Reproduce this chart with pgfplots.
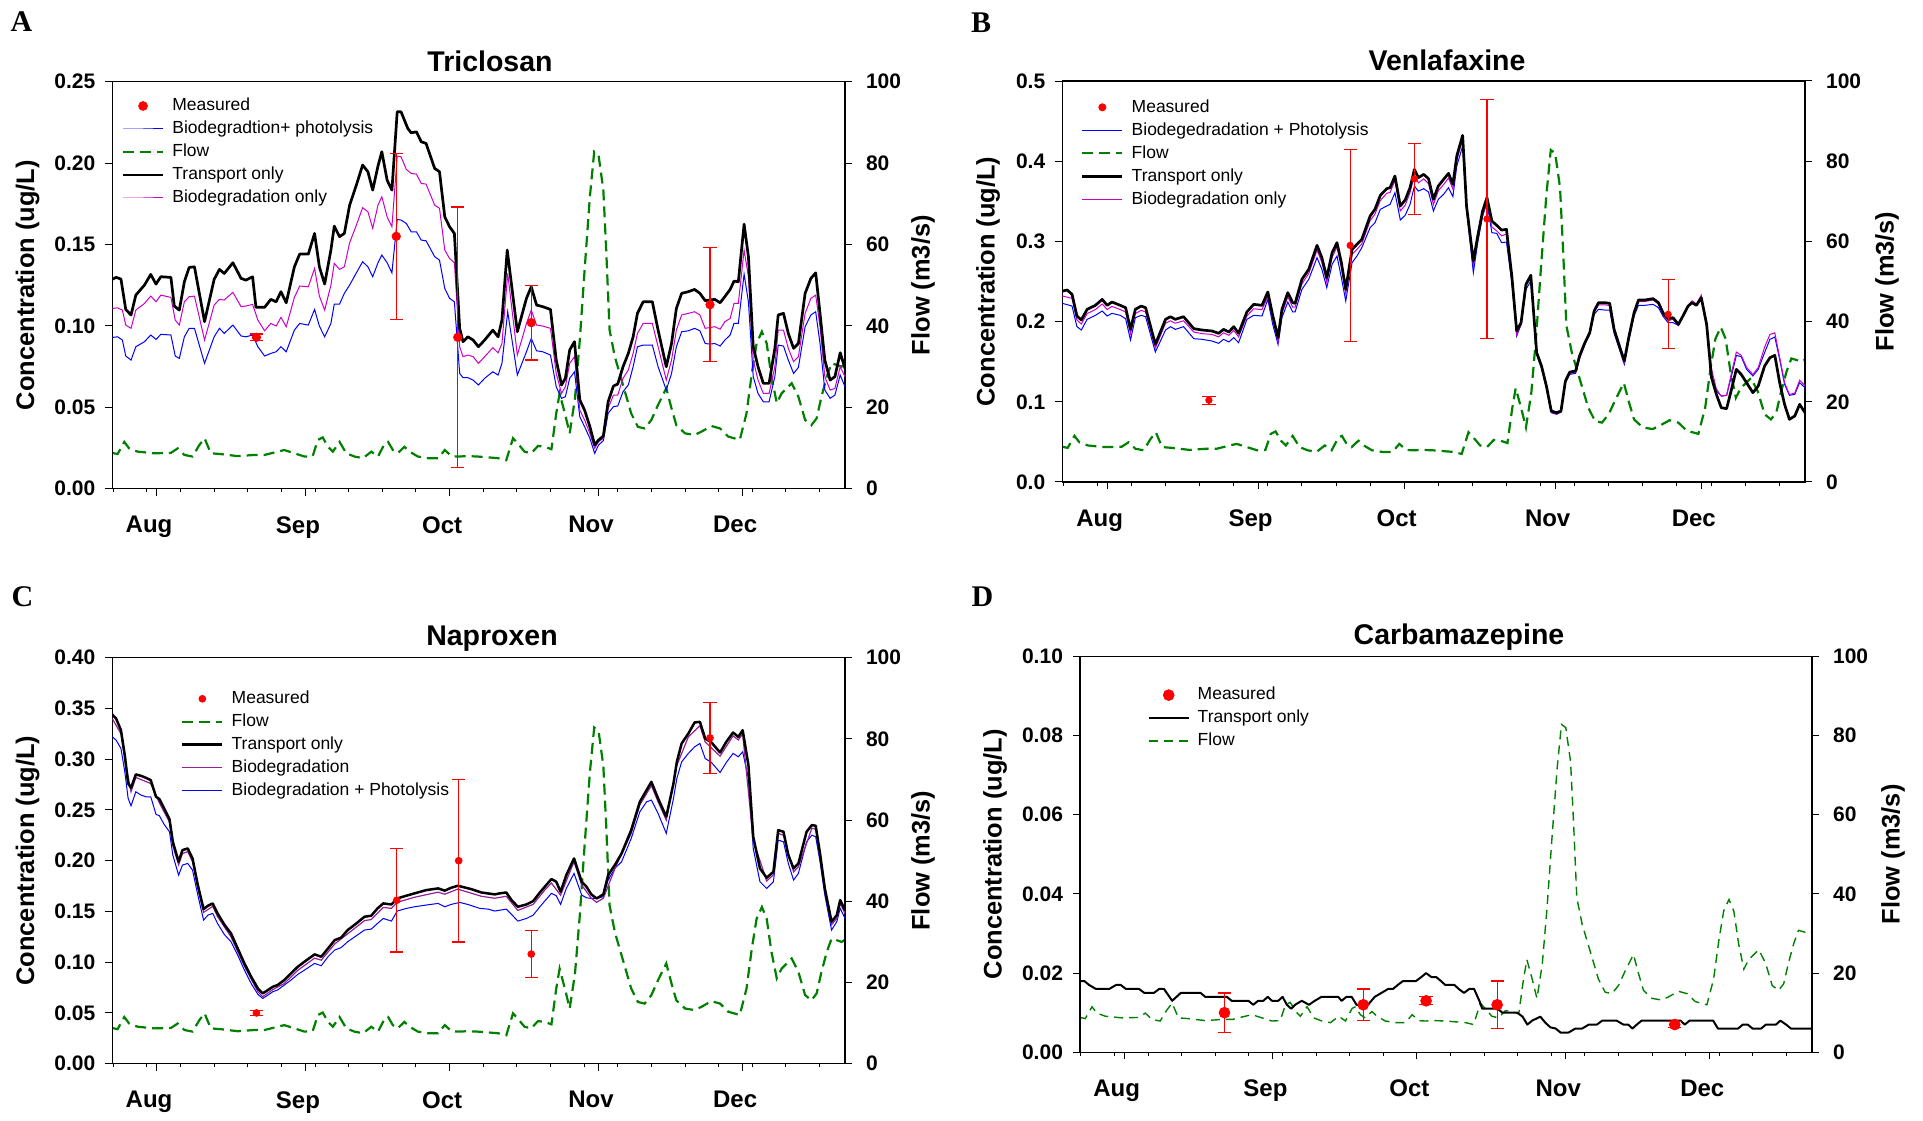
\documentclass[border=0pt]{standalone}
\usepackage{fontspec}
\setmainfont{Liberation Sans}
\newfontfamily\tnr{Liberation Serif}
\usepackage{pgfplots}
\usepackage{pgfplotstable}
\pgfplotsset{compat=1.18}

\definecolor{flowgreen}{RGB}{0,128,0}
\definecolor{magA}{RGB}{204,0,204}
\definecolor{purpC}{RGB}{150,30,150}
\definecolor{pureblue}{RGB}{0,0,255}
\definecolor{purered}{RGB}{255,0,0}

\newcommand{\ticklab}{\bfseries\fontsize{10.5}{12}\selectfont}
\newcommand{\monthlab}{\bfseries\fontsize{12}{14}\selectfont}
\newcommand{\titlefont}{\bfseries\fontsize{14.25}{16}\selectfont}
\newcommand{\labfont}{\bfseries\fontsize{12.7}{15}\selectfont}
\newcommand{\legfont}{\fontsize{8.75}{10}\selectfont}
\newcommand{\letfont}{\tnr\bfseries\fontsize{15}{15}\selectfont}
\newcommand{\PX}[2]{({(#1)*0.5pt},{(1120-(#2))*0.5pt})}

\pgfplotsset{
  legend image code/.code={\draw[mark repeat=2,mark phase=2,#1] plot coordinates {(0pt,0pt) (10pt,0pt) (20pt,0pt)};},
  measlegend/.style={legend image code/.code={\draw[##1] plot coordinates {(10pt,0pt)};}},
  panel/.style={
    scale only axis, anchor=south west,
    xmin=-9.2, xmax=143.3,
    tick align=outside,
    major tick length=3.5pt, minor tick length=1.8pt,
    tick style={black, line width=0.5pt},
    axis line style={black, line width=0.6pt},
    xtick pos=left, ytick pos=left,
    xtick={0,31,61,92,122},
    xticklabels={Aug,Sep,Oct,Nov,Dec},
    minor xtick={-9,-2,...,138},
    xticklabel style={font=\monthlab, xshift=-3.75pt, yshift=-6.75pt},
    yticklabel style={font=\ticklab, xshift=-1.5pt},
    legend cell align=left,
    legend style={draw=none, fill=none, inner sep=0pt, outer sep=0pt, font=\legfont,
      row sep=3.2pt, nodes={inner sep=0pt, text height=6.5pt, text depth=1.8pt},
      /tikz/every odd column/.append style={column sep=4pt}},
  },
  flowax/.style={
    scale only axis, anchor=south west,
    xmin=-9.2, xmax=143.3, ymin=0, ymax=100,
    hide x axis, axis y line*=right,
    tick align=outside, major tick length=3.5pt,
    tick style={black, line width=0.5pt},
    axis line style={black, line width=0.6pt},
    ytick={0,20,40,60,80,100}, yticklabels={0,20,40,60,80,100},
    yticklabel style={font=\ticklab, xshift=3.5pt},
  },
  flowline/.style={flowgreen, mark=none, line width=1.1pt, dash pattern=on 5.5pt off 3pt},
  flowlineD/.style={flowgreen, mark=none, line width=0.7pt, dash pattern=on 4.5pt off 3pt},
  blk/.style={black, mark=none, line width=1.35pt, line join=round},
  blkD/.style={black, mark=none, line width=1.0pt, line join=round},
  blu/.style={pureblue, mark=none, line width=0.5pt},
  mag/.style={magA, mark=none, line width=0.5pt},
  purp/.style={purpC, mark=none, line width=0.6pt},
  meas/.style={only marks, mark=*, purered, mark options={draw=purered, fill=purered},
    error bars/.cd, y dir=both, y explicit,
    error bar style={purered, line width=0.6pt},
    error mark options={rotate=90, purered, line width=0.6pt, mark size=3.3pt}},
}

% ---------------- common flow (m3/s) ----------------
\pgfplotstableread{
d q
-9.2 8.8
-8.1 8.5
-6.7 11.5
-5.7 9.9
-3.9 9.1
-0.5 8.7
3.0 8.8
4.4 9.9
5.8 8.3
7.5 7.9
8.9 10.7
10.0 12.4
11.3 8.7
13.4 8.5
16.9 8.0
20.4 8.3
22.5 8.3
25.2 9.1
26.6 9.5
28.7 8.7
30.8 7.9
32.5 8.0
33.6 12.0
34.6 12.6
35.7 10.3
36.7 9.1
38.1 11.5
39.5 8.7
41.2 7.9
43.0 7.5
44.7 9.1
46.1 7.9
47.5 11.1
48.2 11.5
49.2 9.5
50.2 8.7
51.6 10.3
52.7 9.1
54.4 7.9
56.5 7.5
58.6 7.5
60.0 9.5
61.4 8.0
62.7 7.9
64.8 8.0
66.9 7.9
69.0 7.7
71.1 7.5
72.8 7.0
74.2 12.4
75.2 11.1
76.6 9.1
78.0 8.7
79.4 10.5
80.8 10.3
82.2 9.7
83.2 18.5
83.9 23.4
85.0 18.5
86.0 13.6
87.1 22.2
88.1 36.5
89.1 53.7
90.2 71.7
91.1 82.8
92.0 82.0
93.0 73.4
93.6 58.6
94.3 39.0
95.4 32.4
96.4 28.3
97.8 22.6
98.8 18.5
100.2 15.2
101.6 14.8
103.0 16.9
104.4 20.6
106.1 24.7
107.2 19.7
108.2 15.6
110.0 13.6
112.0 13.2
113.4 14.0
115.5 15.4
117.3 14.8
119.0 12.8
121.4 12.0
122.8 18.5
123.9 28.3
124.9 35.7
126.0 38.6
127.0 35.7
128.0 27.5
129.1 21.0
130.1 23.4
132.2 25.9
133.6 22.6
135.0 16.9
136.3 15.6
137.4 17.3
138.4 22.6
139.5 27.5
140.5 30.8
141.6 30.4
142.6 30.0
143.3 30.5
}\flowdata

% ---------------- A: Triclosan ----------------
\pgfplotstableread{
d c
-9.2 0.1286
-8.4 0.1298
-7.4 0.1288
-6.4 0.1101
-5.3 0.1067
-4.3 0.1189
-2.5 0.1251
-1.2 0.1316
-0.1 0.1257
0.9 0.1302
3.0 0.1298
3.7 0.1122
4.75 0.1097
5.8 0.1271
6.8 0.1359
7.9 0.1363
10.0 0.1026
12.0 0.1286
13.1 0.1347
14.1 0.1322
15.9 0.1388
17.6 0.1292
18.6 0.1281
20.0 0.1302
20.7 0.1114
22.5 0.1114
23.8 0.1163
24.9 0.1148
25.9 0.1210
27.0 0.1142
28.7 0.1363
29.8 0.1441
31.6 0.1441
32.9 0.1568
33.9 0.1363
35.0 0.1257
36.3 0.1466
37.0 0.1613
38.1 0.1548
39.1 0.1568
40.2 0.1742
41.6 0.1865
42.9 0.1988
44.0 0.1947
45.0 0.1834
46.1 0.1982
46.9 0.2070
48.0 0.1895
49.0 0.1834
50.1 0.2315
50.9 0.2315
52.3 0.2213
53.0 0.2186
54.1 0.2192
55.1 0.2131
56.1 0.2121
57.9 0.1967
58.9 0.1947
60.0 0.1670
61.0 0.1609
62.0 0.1568
63.1 0.0985
63.8 0.0903
64.8 0.0933
65.9 0.0913
67.0 0.0872
68.3 0.0913
70.0 0.0974
71.1 0.0933
71.9 0.1036
73.0 0.1466
75.1 0.0964
77.0 0.1169
78.0 0.1240
79.1 0.1128
80.4 0.1118
82.0 0.1101
83.2 0.0790
84.3 0.0637
85.1 0.0678
86.0 0.0852
87.0 0.0903
88.1 0.0545
89.1 0.0483
90.2 0.0381
91.2 0.0268
92.0 0.0299
93.0 0.0323
94.0 0.0534
95.1 0.0630
96.0 0.0643
97.1 0.0749
98.2 0.0831
99.2 0.0933
100.1 0.1077
101.3 0.1148
103.2 0.1148
104.4 0.0974
106.1 0.0749
107.2 0.0892
108.2 0.1107
109.3 0.1200
110.7 0.1210
112.0 0.1224
113.1 0.1200
114.2 0.1155
115.2 0.1159
116.2 0.1163
117.3 0.1142
118.3 0.1180
119.4 0.1224
120.2 0.1275
121.1 0.1271
122.3 0.1625
123.2 0.1425
124.2 0.0872
125.2 0.0749
126.3 0.0647
127.5 0.0647
128.7 0.0862
129.4 0.1067
130.5 0.1077
131.5 0.0954
132.6 0.0862
133.6 0.0892
135.0 0.1200
136.2 0.1292
137.2 0.1326
138.1 0.1077
139.1 0.0790
140.2 0.0667
141.2 0.0688
142.3 0.0835
143.3 0.0739
}\Ablack

\pgfplotstableread{
d c
-9.2 0.1107
-8.1 0.1111
-7.1 0.1097
-6.4 0.1005
-5.3 0.0985
-4.3 0.1097
-2.5 0.1138
-1.2 0.1183
-0.1 0.1148
0.9 0.1189
3.0 0.1175
3.9 0.1036
4.75 0.1005
5.8 0.1148
6.8 0.1179
7.9 0.1183
10.0 0.0913
12.0 0.1128
13.1 0.1163
14.1 0.1159
15.9 0.1206
17.6 0.1118
18.6 0.1122
20.0 0.1132
21.1 0.1036
22.5 0.0970
23.8 0.1015
24.9 0.0999
25.9 0.1052
27.0 0.0995
28.7 0.1175
29.8 0.1245
31.6 0.1240
32.9 0.1353
33.9 0.1183
35.0 0.1097
36.3 0.1250
37.0 0.1384
38.1 0.1347
39.1 0.1363
40.2 0.1511
41.6 0.1619
42.9 0.1726
44.0 0.1701
45.0 0.1599
46.1 0.1742
46.9 0.1793
48.0 0.1670
49.0 0.1609
50.1 0.2043
50.9 0.2039
52.0 0.1961
53.0 0.1937
54.1 0.1932
55.1 0.1875
56.1 0.1871
57.9 0.1742
58.9 0.1722
60.0 0.1466
61.0 0.1414
62.0 0.1388
63.1 0.0872
63.8 0.0811
64.8 0.0821
65.9 0.0811
67.0 0.0770
68.3 0.0811
70.0 0.0866
71.1 0.0835
71.9 0.0892
73.1 0.1322
75.1 0.0821
77.0 0.1015
78.0 0.1097
79.1 0.1005
80.4 0.0999
82.0 0.0985
83.2 0.0708
84.3 0.0585
85.1 0.0626
86.0 0.0770
87.0 0.0811
88.1 0.0483
89.1 0.0422
90.2 0.0340
91.2 0.0248
92.0 0.0289
93.0 0.0309
94.0 0.0493
95.1 0.0575
96.0 0.0575
97.1 0.0678
98.2 0.0729
99.2 0.0831
100.1 0.0954
101.3 0.1015
103.2 0.1015
104.4 0.0872
106.1 0.0667
107.2 0.0790
108.2 0.0974
109.3 0.1067
110.7 0.1077
112.0 0.1087
113.1 0.1067
114.2 0.0985
115.2 0.0990
116.2 0.0995
117.3 0.0980
118.3 0.1026
119.4 0.1046
120.2 0.1138
121.1 0.1138
122.3 0.1466
123.2 0.1302
124.2 0.0790
125.2 0.0667
126.3 0.0585
127.5 0.0585
128.7 0.0749
129.4 0.0974
130.5 0.0974
131.5 0.0862
132.6 0.0780
133.6 0.0811
135.0 0.1077
136.2 0.1169
137.2 0.1189
138.1 0.0995
139.1 0.0688
140.2 0.0606
141.2 0.0616
142.3 0.0749
143.3 0.0688
}\Amag

\pgfplotstableread{
d c
-9.2 0.0929
-8.1 0.0933
-7.1 0.0913
-6.4 0.0815
-5.3 0.0790
-4.3 0.0872
-2.5 0.0903
-1.2 0.0944
-0.1 0.0917
0.9 0.0948
3.0 0.0944
3.9 0.0815
4.75 0.0800
5.8 0.0933
6.8 0.0985
7.9 0.0985
10.0 0.0770
12.0 0.0933
13.1 0.0985
14.1 0.0954
15.9 0.1005
17.6 0.0938
18.6 0.0933
20.0 0.0944
21.1 0.0872
22.5 0.0815
23.8 0.0831
24.9 0.0841
25.9 0.0872
27.0 0.0841
28.7 0.0974
29.8 0.1015
31.6 0.1005
32.9 0.1101
33.9 0.0999
35.0 0.0933
36.3 0.1015
37.0 0.1134
38.1 0.1134
39.1 0.1200
40.2 0.1251
41.6 0.1326
42.9 0.1394
44.0 0.1363
45.0 0.1302
46.1 0.1388
46.9 0.1435
48.0 0.1388
49.0 0.1326
50.1 0.1654
50.9 0.1650
52.0 0.1629
53.0 0.1578
54.1 0.1578
55.1 0.1527
56.1 0.1523
57.9 0.1425
58.9 0.1404
60.0 0.1230
61.0 0.1169
62.0 0.1148
63.1 0.0708
63.8 0.0682
64.8 0.0682
65.9 0.0667
67.0 0.0637
68.3 0.0678
70.0 0.0718
71.1 0.0698
71.9 0.0770
73.1 0.1087
75.1 0.0698
77.0 0.0841
78.0 0.0923
79.1 0.0847
80.4 0.0841
82.0 0.0821
83.2 0.0626
84.3 0.0555
85.1 0.0565
86.0 0.0678
87.0 0.0718
88.1 0.0442
89.1 0.0381
90.2 0.0309
91.2 0.0217
92.0 0.0268
93.0 0.0295
94.0 0.0463
95.1 0.0504
96.0 0.0508
97.1 0.0596
98.2 0.0637
99.2 0.0749
100.1 0.0872
101.3 0.0882
103.2 0.0882
104.4 0.0749
106.1 0.0606
107.2 0.0708
108.2 0.0872
109.3 0.0964
110.7 0.0970
112.0 0.0985
113.1 0.0970
114.2 0.0892
115.2 0.0888
116.2 0.0892
117.3 0.0876
118.3 0.0913
119.4 0.0944
120.2 0.1015
121.1 0.1015
122.3 0.1318
123.2 0.1148
124.2 0.0688
125.2 0.0585
126.3 0.0534
127.5 0.0534
128.7 0.0688
129.4 0.0882
130.5 0.0876
131.5 0.0790
132.6 0.0708
133.6 0.0745
135.0 0.0995
136.2 0.1067
137.2 0.1087
138.1 0.0892
139.1 0.0606
140.2 0.0555
141.2 0.0575
142.3 0.0698
143.3 0.0626
}\Ablue

% ---------------- B: Venlafaxine ----------------
\pgfplotstableread{
d c
-9.2 0.2380
-8.2 0.2394
-7.2 0.2340
-6.2 0.2070
-5.3 0.2020
-4.1 0.2153
-2.4 0.2203
-1.0 0.2277
0.0 0.2203
1.0 0.2244
2.7 0.2203
3.8 0.2174
4.8 0.1903
5.8 0.2153
7.0 0.2194
7.9 0.2174
9.9 0.1716
12.0 0.2028
13.0 0.2061
14.0 0.2028
15.7 0.2061
17.8 0.1912
19.5 0.1895
21.5 0.1883
22.9 0.1854
23.9 0.1903
25.0 0.1870
26.0 0.1937
27.0 0.1854
28.7 0.2120
30.1 0.2215
31.8 0.2203
33.0 0.2369
34.0 0.2078
35.1 0.1800
35.9 0.2153
37.1 0.2361
38.1 0.2236
38.6 0.2228
40.0 0.2527
41.4 0.2652
43.1 0.2951
44.1 0.2797
45.1 0.2548
46.2 0.2859
47.2 0.2984
48.1 0.2735
49.0 0.2402
50.3 0.2901
51.3 0.2963
52.3 0.3026
54.0 0.3316
55.0 0.3400
56.1 0.3574
57.4 0.3657
58.1 0.3670
59.1 0.3815
60.2 0.3441
61.2 0.3516
62.2 0.3670
63.1 0.3898
63.9 0.3794
65.0 0.3836
66.0 0.3782
67.0 0.3524
68.0 0.3690
69.1 0.3774
70.1 0.3848
71.0 0.3711
71.8 0.4065
73.0 0.4322
73.8 0.3441
75.2 0.2755
76.1 0.3067
77.1 0.3379
78.0 0.3545
79.0 0.3254
80.0 0.3200
81.0 0.3142
82.0 0.3150
83.1 0.2568
84.1 0.1883
85.0 0.1987
86.0 0.2464
87.0 0.2577
88.2 0.1613
89.2 0.1446
90.2 0.1197
91.2 0.0885
92.3 0.0864
93.2 0.0885
94.1 0.1259
95.0 0.1371
96.2 0.1384
97.0 0.1571
98.1 0.1737
99.1 0.1862
100.0 0.2132
100.9 0.2236
102.2 0.2236
103.2 0.2228
104.1 0.1903
105.3 0.1675
106.2 0.1509
107.1 0.1800
108.2 0.2111
109.1 0.2269
110.4 0.2269
112.1 0.2286
113.2 0.2236
114.2 0.2103
115.2 0.2036
116.2 0.2049
117.3 0.1966
118.3 0.2078
119.3 0.2194
120.1 0.2236
121.0 0.2203
122.0 0.2298
123.1 0.1966
124.1 0.1301
125.1 0.1093
126.1 0.0927
127.2 0.0914
128.2 0.1155
129.2 0.1405
130.2 0.1342
131.3 0.1238
132.6 0.1114
133.7 0.1197
135.0 0.1446
136.1 0.1550
137.1 0.1579
138.1 0.1238
139.1 0.0968
140.1 0.0781
141.2 0.0823
142.2 0.0968
143.3 0.0864
}\Bblack

\pgfplotstableread{
d c
-9.2 0.232
-7.2 0.229
-6.2 0.202
-5.3 0.197
-4.1 0.210
-2.4 0.215
-1.0 0.222
0.0 0.215
1.0 0.219
2.7 0.215
3.8 0.212
4.8 0.185
5.8 0.210
7.0 0.214
7.9 0.212
9.9 0.167
12.0 0.198
13.0 0.201
14.0 0.198
15.7 0.201
17.8 0.187
19.5 0.185
21.5 0.184
22.9 0.181
23.9 0.186
25.0 0.183
26.0 0.189
27.0 0.181
28.7 0.207
30.1 0.216
31.8 0.215
33.0 0.231
34.0 0.203
35.1 0.175
35.9 0.210
37.1 0.231
38.1 0.218
38.6 0.218
40.0 0.247
41.4 0.260
43.1 0.289
44.1 0.274
45.1 0.249
46.2 0.280
47.2 0.293
48.1 0.268
49.0 0.235
50.3 0.284
51.3 0.290
52.3 0.297
54.0 0.326
55.0 0.334
56.1 0.351
57.4 0.360
58.1 0.361
59.1 0.376
60.2 0.338
61.2 0.345
62.2 0.361
63.1 0.383
63.9 0.373
65.0 0.378
66.0 0.372
67.0 0.346
68.0 0.363
69.1 0.371
70.1 0.379
71.0 0.365
71.8 0.401
73.0 0.428
73.8 0.340
75.2 0.270
76.1 0.302
77.1 0.333
78.0 0.349
79.0 0.318
80.0 0.313
81.0 0.307
82.0 0.309
83.1 0.252
84.1 0.184
85.0 0.196
86.0 0.244
87.0 0.257
88.2 0.160
89.2 0.143
90.2 0.118
91.2 0.087
92.3 0.085
93.2 0.087
94.1 0.124
95.0 0.135
96.2 0.137
97.0 0.155
98.1 0.172
99.1 0.185
100.0 0.212
100.9 0.221
102.2 0.221
103.2 0.220
104.1 0.188
105.3 0.165
106.2 0.149
107.1 0.178
108.2 0.209
109.1 0.225
110.4 0.225
112.1 0.227
113.2 0.222
114.2 0.208
115.2 0.201
116.2 0.203
117.3 0.195
118.3 0.207
119.3 0.220
120.1 0.226
121.0 0.222
122.0 0.233
123.1 0.199
124.1 0.141
125.1 0.116
126.1 0.107
127.2 0.108
128.2 0.136
129.2 0.162
130.2 0.158
131.3 0.143
132.6 0.134
133.7 0.143
135.0 0.168
136.1 0.184
137.1 0.186
138.1 0.155
139.1 0.124
140.1 0.109
141.2 0.111
142.2 0.127
143.3 0.120
}\Bmag

\pgfplotstableread{
d c
-9.2 0.2228
-7.2 0.2194
-6.2 0.1937
-5.3 0.1895
-4.1 0.2028
-2.4 0.2078
-1.0 0.2132
0.0 0.2070
1.0 0.2103
2.7 0.2078
3.8 0.2036
4.8 0.1770
5.8 0.2049
7.0 0.2078
7.9 0.2061
9.9 0.1621
12.0 0.1895
13.0 0.1937
14.0 0.1903
15.7 0.1937
17.8 0.1787
19.5 0.1779
21.5 0.1758
22.9 0.1729
23.9 0.1779
25.0 0.1746
26.0 0.1800
27.0 0.1737
28.7 0.2028
30.1 0.2078
31.8 0.2070
33.0 0.2277
34.0 0.1966
35.1 0.1716
35.9 0.2049
37.1 0.2244
38.1 0.2120
38.6 0.2120
40.0 0.2402
41.4 0.2527
43.1 0.2797
44.1 0.2652
45.1 0.2423
46.2 0.2714
47.2 0.2818
48.1 0.2548
49.0 0.2257
50.3 0.2735
51.3 0.2818
52.3 0.2922
54.0 0.3171
55.0 0.3233
56.1 0.3400
57.4 0.3441
58.1 0.3462
59.1 0.3607
60.2 0.3267
61.2 0.3325
62.2 0.3462
63.1 0.3690
63.9 0.3628
65.0 0.3657
66.0 0.3616
67.0 0.3379
68.0 0.3524
69.1 0.3587
70.1 0.3670
71.0 0.3558
71.8 0.3940
73.0 0.4189
73.8 0.3400
75.2 0.2610
76.1 0.2984
77.1 0.3317
78.0 0.3483
79.0 0.3109
80.0 0.3100
81.0 0.2984
82.0 0.2992
83.1 0.2485
84.1 0.1820
85.0 0.1966
86.0 0.2402
87.0 0.2506
88.2 0.1592
89.2 0.1413
90.2 0.1176
91.2 0.0864
92.3 0.0844
93.2 0.0873
94.1 0.1238
95.0 0.1342
96.2 0.1355
97.0 0.1538
98.1 0.1716
99.1 0.1841
100.0 0.2091
100.9 0.2153
102.2 0.2144
103.2 0.2144
104.1 0.1854
105.3 0.1634
106.2 0.1467
107.1 0.1758
108.2 0.2070
109.1 0.2203
110.4 0.2203
112.1 0.2215
113.2 0.2174
114.2 0.2061
115.2 0.1987
116.2 0.1987
117.3 0.1953
118.3 0.2070
119.3 0.2194
120.1 0.2236
121.0 0.2203
122.0 0.2311
123.1 0.1987
124.1 0.1342
125.1 0.1135
126.1 0.1072
127.2 0.1081
128.2 0.1322
129.2 0.1579
130.2 0.1563
131.3 0.1405
132.6 0.1322
133.7 0.1405
135.0 0.1613
136.1 0.1779
137.1 0.1808
138.1 0.1529
139.1 0.1218
140.1 0.1081
141.2 0.1093
142.2 0.1238
143.3 0.1176
}\Bblue

% ---------------- C: Naproxen ----------------
\pgfplotstableread{
d c
-9.2 0.3440
-8.4 0.3400
-7.4 0.3286
-6.6 0.3040
-5.9 0.2760
-5.3 0.2718
-4.3 0.2850
-3.2 0.2836
-2.2 0.2817
-1.2 0.2794
-0.1 0.2630
0.6 0.2607
1.6 0.2515
2.7 0.2410
3.4 0.2186
4.6 0.1990
5.4 0.2104
6.5 0.2121
7.5 0.2022
8.6 0.1760
9.8 0.1523
10.7 0.1556
11.7 0.1579
12.7 0.1481
14.1 0.1372
15.5 0.1284
16.9 0.1136
18.3 0.0988
19.7 0.0857
21.1 0.0742
22.1 0.0693
23.2 0.0726
24.2 0.0758
25.2 0.0775
26.6 0.0824
28.0 0.0890
29.4 0.0955
30.8 0.1005
32.9 0.1077
34.3 0.1054
35.7 0.1136
37.1 0.1218
38.4 0.1241
39.8 0.1317
41.6 0.1382
43.3 0.1448
44.7 0.1458
46.0 0.1530
47.2 0.1579
48.9 0.1569
50.1 0.1628
52.0 0.1655
53.7 0.1678
56.1 0.1710
58.6 0.1727
60.0 0.1705
61.3 0.1733
62.7 0.1753
65.5 0.1720
67.6 0.1687
70.4 0.1668
71.4 0.1678
72.8 0.1687
73.9 0.1612
75.2 0.1546
77.0 0.1569
78.4 0.1602
79.8 0.1687
80.8 0.1743
82.2 0.1819
83.2 0.1793
84.1 0.1694
85.3 0.1858
86.9 0.2022
88.5 0.1793
89.5 0.1743
90.5 0.1668
91.6 0.1628
93.0 0.1668
94.0 0.1858
95.4 0.1957
96.8 0.2072
98.8 0.2301
100.6 0.2580
102.0 0.2695
103.0 0.2777
104.4 0.2613
106.1 0.2433
107.6 0.2761
108.3 0.2974
109.3 0.3155
110.7 0.3253
112.0 0.3362
113.1 0.3368
114.2 0.3204
115.5 0.3165
117.3 0.3066
118.6 0.3171
120.0 0.3263
121.1 0.3220
122.0 0.3286
123.2 0.2942
124.2 0.2236
125.6 0.1924
127.0 0.1832
128.4 0.1891
129.4 0.2301
130.5 0.2285
131.5 0.2055
132.6 0.1924
133.6 0.1973
135.3 0.2285
136.4 0.2351
137.2 0.2344
138.1 0.2072
139.1 0.1727
140.5 0.1399
141.6 0.1464
142.3 0.1612
143.3 0.1513
}\Cblack

\pgfplotstableread{
d c
-9.2 0.340
-7.4 0.325
-6.6 0.300
-5.3 0.268
-4.3 0.282
-2.2 0.278
-1.2 0.276
0.6 0.257
2.7 0.238
3.4 0.215
4.6 0.196
5.4 0.207
6.5 0.209
7.5 0.199
8.6 0.173
9.8 0.149
11.7 0.155
12.7 0.145
15.5 0.125
18.3 0.096
21.1 0.071
22.1 0.066
24.2 0.073
26.6 0.079
29.4 0.092
32.9 0.104
34.3 0.102
37.1 0.118
39.8 0.128
43.3 0.141
44.7 0.142
47.2 0.154
48.9 0.153
50.1 0.159
53.7 0.164
58.6 0.169
60.0 0.167
62.7 0.172
67.6 0.165
70.4 0.163
72.8 0.165
75.2 0.151
78.4 0.157
80.8 0.171
82.2 0.178
84.1 0.166
86.9 0.199
88.5 0.176
90.5 0.163
91.6 0.159
93.0 0.163
95.4 0.192
98.8 0.227
100.6 0.255
103.0 0.274
104.4 0.258
106.1 0.240
108.3 0.294
110.7 0.322
113.1 0.333
114.2 0.317
117.3 0.303
120.0 0.323
121.1 0.319
122.0 0.325
124.2 0.220
127.0 0.180
128.4 0.186
129.4 0.227
130.5 0.225
132.6 0.189
133.6 0.194
136.4 0.232
137.2 0.231
139.1 0.170
140.5 0.137
141.6 0.143
142.3 0.158
143.3 0.148
}\Cmag

\pgfplotstableread{
d c
-9.2 0.3221
-8.4 0.3188
-7.4 0.3106
-6.6 0.2876
-5.9 0.2613
-5.3 0.2541
-4.3 0.2679
-3.2 0.2646
-2.2 0.2630
-1.2 0.2630
-0.1 0.2456
0.6 0.2443
1.6 0.2357
2.7 0.2285
3.4 0.2055
4.6 0.1858
5.4 0.1957
6.5 0.1973
7.5 0.1907
8.6 0.1661
9.8 0.1415
10.7 0.1464
11.7 0.1481
12.7 0.1382
14.1 0.1274
15.5 0.1202
16.9 0.1070
18.3 0.0922
19.7 0.0791
21.1 0.0683
22.1 0.0643
23.2 0.0676
24.2 0.0709
25.2 0.0726
26.6 0.0775
28.0 0.0824
29.4 0.0880
30.8 0.0922
32.9 0.0988
34.3 0.0965
35.7 0.1054
37.1 0.1120
38.4 0.1143
39.8 0.1202
41.6 0.1261
43.3 0.1317
44.7 0.1326
46.0 0.1382
47.2 0.1431
48.9 0.1405
50.1 0.1504
52.0 0.1530
53.7 0.1546
56.1 0.1563
58.6 0.1579
60.0 0.1546
61.3 0.1569
63.1 0.1589
64.8 0.1569
67.3 0.1530
69.0 0.1523
70.4 0.1504
72.8 0.1523
73.9 0.1471
75.2 0.1405
77.0 0.1431
78.4 0.1464
79.8 0.1546
80.8 0.1602
82.2 0.1678
83.2 0.1655
84.1 0.1569
85.3 0.1727
86.9 0.1875
88.5 0.1661
89.5 0.1635
90.5 0.1628
91.6 0.1628
93.0 0.1645
94.0 0.1809
95.4 0.1924
96.8 0.1990
98.8 0.2219
100.6 0.2482
102.0 0.2580
103.0 0.2597
104.4 0.2466
106.1 0.2269
107.6 0.2613
108.3 0.2810
109.3 0.2974
110.7 0.3057
112.0 0.3122
113.1 0.3155
114.2 0.3007
115.5 0.2968
117.3 0.2869
118.6 0.2968
120.0 0.3057
121.1 0.3024
122.0 0.3073
123.2 0.2810
124.2 0.2121
125.6 0.1793
127.0 0.1727
128.4 0.1793
129.4 0.2203
130.5 0.2186
131.5 0.1973
132.6 0.1809
133.6 0.1875
135.3 0.2186
136.4 0.2252
137.2 0.2236
138.1 0.1990
139.1 0.1661
140.5 0.1317
141.6 0.1399
142.3 0.1530
143.3 0.1431
}\Cblue

% ---------------- D: Carbamazepine ----------------
\pgfplotstableread{
d c
-9.2 0.018
-8.3 0.018
-7.3 0.017
-5.9 0.016
-3.1 0.016
-1.7 0.017
-0.7 0.017
0.35 0.016
3.1 0.016
4.2 0.015
6.2 0.015
7.3 0.016
8.3 0.016
10.0 0.013
11.8 0.015
15.9 0.015
16.9 0.014
21.4 0.014
22.4 0.013
25.9 0.013
26.9 0.012
27.9 0.013
29.0 0.013
29.9 0.014
30.8 0.013
32.1 0.013
33.0 0.014
33.9 0.012
34.8 0.011
35.6 0.012
37.0 0.013
38.5 0.012
39.7 0.013
41.1 0.014
44.6 0.014
45.3 0.013
46.3 0.014
47.4 0.014
48.4 0.012
50.8 0.012
52.2 0.014
53.6 0.015
55.0 0.016
56.0 0.016
57.0 0.017
58.1 0.018
60.8 0.018
61.9 0.019
62.9 0.020
64.0 0.019
65.0 0.019
66.0 0.018
66.9 0.017
68.8 0.017
69.7 0.016
70.8 0.015
71.9 0.016
72.9 0.016
74.0 0.013
74.6 0.011
77.8 0.011
78.8 0.010
81.9 0.010
83.0 0.009
84.0 0.007
85.0 0.008
86.7 0.009
87.8 0.0074
88.8 0.0063
89.9 0.006
90.9 0.005
92.6 0.005
94.0 0.006
95.4 0.006
96.8 0.007
98.5 0.007
99.6 0.008
102.6 0.008
104.0 0.007
105.0 0.007
105.9 0.006
106.8 0.007
107.8 0.008
115.9 0.008
116.8 0.007
117.8 0.008
122.7 0.008
123.7 0.006
127.9 0.006
128.9 0.007
129.9 0.007
130.9 0.006
132.7 0.006
133.7 0.007
135.8 0.007
136.7 0.008
137.9 0.007
138.9 0.006
143.3 0.006
}\Dblack

\begin{document}
\begin{tikzpicture}
\path[use as bounding box] (0,0) rectangle (961.5pt,560pt);

% ======================= A =======================
\begin{axis}[flowax, at={(56.15pt,315.65pt)}, width=366.35pt, height=203.5pt]
\addplot[flowline] table[x=d,y=q]{\flowdata};
\end{axis}
\begin{axis}[panel, at={(56.15pt,315.65pt)}, width=366.35pt, height=203.5pt,
  ymin=0, ymax=0.25, ytick={0,0.05,0.1,0.15,0.2,0.25},
  yticklabels={0.00,0.05,0.10,0.15,0.20,0.25},
  legend style={at={(0,1)}, anchor=north west, xshift=4.7pt, yshift=-8pt}]
\addlegendimage{only marks, mark=*, purered, mark size=2.2pt, measlegend}
\addlegendentry{Measured}
\addlegendimage{blu}
\addlegendentry{Biodegradtion+ photolysis}
\addlegendimage{flowline}
\addlegendentry{Flow}
\addlegendimage{blk}
\addlegendentry{Transport only}
\addlegendimage{mag}
\addlegendentry{Biodegradation only}
\addplot[blu, forget plot] table[x=d,y=c]{\Ablue};
\addplot[mag, forget plot] table[x=d,y=c]{\Amag};
\addplot[blk, forget plot] table[x=d,y=c]{\Ablack};
\addplot[forget plot, mark size=2.1pt, meas] coordinates {
 (20.8,0.093) +- (0,0.002)
 (49.9,0.155) +- (0,0.051)
 (62.7,0.093) +- (0,0.080)
 (78.0,0.102) +- (0,0.023)
 (115.2,0.113) +- (0,0.035)
};
\end{axis}

% ======================= B =======================
\begin{axis}[flowax, at={(531.15pt,319pt)}, width=371.35pt, height=200.5pt]
\addplot[flowline] table[x=d,y=q]{\flowdata};
\end{axis}
\begin{axis}[panel, at={(531.15pt,319pt)}, width=371.35pt, height=200.5pt,
  ymin=0, ymax=0.5, ytick={0,0.1,0.2,0.3,0.4,0.5},
  yticklabels={0.0,0.1,0.2,0.3,0.4,0.5},
  legend style={at={(0,1)}, anchor=north west, xshift=9.35pt, yshift=-9pt}]
\addlegendimage{only marks, mark=*, purered, mark size=1.8pt, measlegend}
\addlegendentry{Measured}
\addlegendimage{blu}
\addlegendentry{Biodegedradation + Photolysis}
\addlegendimage{flowline}
\addlegendentry{Flow}
\addlegendimage{blk}
\addlegendentry{Transport only}
\addlegendimage{mag}
\addlegendentry{Biodegradation only}
\addplot[blu, forget plot] table[x=d,y=c]{\Bblue};
\addplot[mag, forget plot] table[x=d,y=c]{\Bmag};
\addplot[blk, forget plot] table[x=d,y=c]{\Bblack};
\addplot[forget plot, mark size=1.6pt, meas] coordinates {
 (20.9,0.102) +- (0,0.005)
 (49.9,0.295) +- (0,0.120)
 (63.1,0.378) +- (0,0.044)
 (78.0,0.328) +- (0,0.149)
 (115.2,0.209) +- (0,0.043)
};
\end{axis}

% ======================= C =======================
\begin{axis}[flowax, at={(56.15pt,28.15pt)}, width=366.35pt, height=203pt]
\addplot[flowline] table[x=d,y=q]{\flowdata};
\end{axis}
\begin{axis}[panel, at={(56.15pt,28.15pt)}, width=366.35pt, height=203pt,
  ymin=0, ymax=0.4, ytick={0,0.05,0.1,0.15,0.2,0.25,0.3,0.35,0.4},
  yticklabels={0.00,0.05,0.10,0.15,0.20,0.25,0.30,0.35,0.40},
  legend style={at={(0,1)}, anchor=north west, xshift=34.35pt, yshift=-16.4pt}]
\addlegendimage{only marks, mark=*, purered, mark size=1.7pt, measlegend}
\addlegendentry{Measured}
\addlegendimage{flowline}
\addlegendentry{Flow}
\addlegendimage{blk}
\addlegendentry{Transport only}
\addlegendimage{purp}
\addlegendentry{Biodegradation}
\addlegendimage{blu}
\addlegendentry{Biodegradation + Photolysis}
\addplot[blu, forget plot] table[x=d,y=c]{\Cblue};
\addplot[purp, forget plot] table[x=d,y=c]{\Cmag};
\addplot[blk, line width=1.25pt, forget plot] table[x=d,y=c]{\Cblack};
\addplot[forget plot, mark size=1.7pt, meas] coordinates {
 (20.8,0.050) +- (0,0.0025)
 (50.0,0.161) +- (0,0.051)
 (62.9,0.200) +- (0,0.080)
 (78.0,0.108) +- (0,0.023)
 (115.2,0.321) +- (0,0.035)
};
\end{axis}

% ======================= D =======================
\begin{axis}[flowax, at={(540pt,33.85pt)}, width=366pt, height=198pt]
\addplot[flowlineD] table[x=d,y=q]{\flowdata};
\end{axis}
\begin{axis}[panel, at={(540pt,33.85pt)}, width=366pt, height=198pt,
  ymin=0, ymax=0.1, ytick={0,0.02,0.04,0.06,0.08,0.1},
  yticklabels={0.00,0.02,0.04,0.06,0.08,0.10},
  legend style={at={(0,1)}, anchor=north west, xshift=33.85pt, yshift=-15.25pt}]
\addlegendimage{only marks, mark=*, purered, mark size=2.7pt, measlegend}
\addlegendentry{Measured}
\addlegendimage{blkD}
\addlegendentry{Transport only}
\addlegendimage{flowlineD}
\addlegendentry{Flow}
\addplot[blkD, forget plot] table[x=d,y=c]{\Dblack};
\addplot[forget plot, mark size=2.7pt, meas] coordinates {
 (20.9,0.010) +- (0,0.005)
 (49.8,0.012) +- (0,0.004)
 (62.9,0.013) +- (0,0.001)
 (77.7,0.012) +- (0,0.006)
 (114.7,0.007) +- (0,0.0008)
};
\end{axis}

% ======================= texts =======================
\node[font=\letfont] at \PX{21.5}{21.5} {A};
\node[font=\letfont] at \PX{981}{22.3} {B};
\node[font=\letfont] at \PX{22.5}{596.6} {C};
\node[font=\letfont] at \PX{982.5}{596.6} {D};

\node[font=\titlefont, anchor=base] at \PX{490}{71.6} {Triclosan};
\node[font=\titlefont, anchor=base] at \PX{1447}{70.9} {Venlafaxine};
\node[font=\titlefont, anchor=base] at \PX{492}{645.6} {Naproxen};
\node[font=\titlefont, anchor=base] at \PX{1459}{644.3} {Carbamazepine};

\node[font=\labfont, rotate=90] at \PX{27.5}{285.2} {Concentration (ug/L)};
\node[font=\labfont, rotate=90] at \PX{923}{285.2} {Flow (m3/s)};
\node[font=\labfont, rotate=90] at \PX{988}{281.5} {Concentration (ug/L)};
\node[font=\labfont, rotate=90] at \PX{1887}{281.5} {Flow (m3/s)};
\node[font=\labfont, rotate=90] at \PX{27.5}{860.7} {Concentration (ug/L)};
\node[font=\labfont, rotate=90] at \PX{923}{860.7} {Flow (m3/s)};
\node[font=\labfont, rotate=90] at \PX{995}{854.3} {Concentration (ug/L)};
\node[font=\labfont, rotate=90] at \PX{1893}{854.3} {Flow (m3/s)};
\end{tikzpicture}
\end{document}
